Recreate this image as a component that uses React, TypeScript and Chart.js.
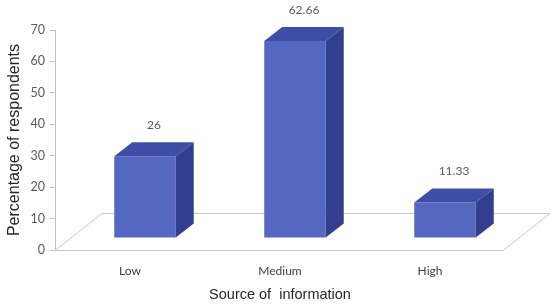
import React, { useEffect, useRef } from "react";
import { Chart, registerables } from "chart.js";

Chart.register(...registerables);

const categories = ["Low", "Medium", "High"];
const percentages = [26, 62.66, 11.33];
const valueLabels = ["26", "62.66", "11.33"];
const yTicks = [0, 10, 20, 30, 40, 50, 60, 70];

const SHIFT_X = 15;
const SHIFT_Y = -12;
const DEPTH_X = 18;
const DEPTH_Y = -14;

const bar3d = {
  id: "bar3d",
  beforeDatasetsDraw(chart: any) {
    const { ctx, chartArea } = chart;
    const { left, right, bottom } = chartArea;
    ctx.save();
    ctx.strokeStyle = "#c8c8c8";
    ctx.lineWidth = 1;
    ctx.beginPath();
    ctx.moveTo(left, bottom + 0.5);
    ctx.lineTo(right - 2, bottom + 0.5);
    ctx.lineTo(right + 45, bottom - 36.5);
    ctx.lineTo(left + 47, bottom - 36.5);
    ctx.closePath();
    ctx.stroke();
    ctx.restore();
  },
  beforeDatasetDraw(chart: any) {
    chart.ctx.save();
    chart.ctx.translate(SHIFT_X, SHIFT_Y);
  },
  afterDatasetDraw(chart: any) {
    const ctx = chart.ctx;
    const meta = chart.getDatasetMeta(0);
    meta.data.forEach((bar: any) => {
      const x0 = bar.x - bar.width / 2;
      const x1 = bar.x + bar.width / 2;
      const yTop = bar.y;
      const yBase = bar.base;
      ctx.fillStyle = "#3e4ea6";
      ctx.beginPath();
      ctx.moveTo(x0, yTop);
      ctx.lineTo(x0 + DEPTH_X, yTop + DEPTH_Y);
      ctx.lineTo(x1 + DEPTH_X, yTop + DEPTH_Y);
      ctx.lineTo(x1, yTop);
      ctx.closePath();
      ctx.fill();
      ctx.fillStyle = "#323f8e";
      ctx.beginPath();
      ctx.moveTo(x1, yTop);
      ctx.lineTo(x1 + DEPTH_X, yTop + DEPTH_Y);
      ctx.lineTo(x1 + DEPTH_X, yBase + DEPTH_Y);
      ctx.lineTo(x1, yBase);
      ctx.closePath();
      ctx.fill();
    });
    ctx.restore();
    ctx.save();
    ctx.fillStyle = "#595959";
    ctx.font = "12px Lato";
    ctx.textAlign = "center";
    ctx.textBaseline = "middle";
    meta.data.forEach((bar: any, i: number) => {
      ctx.fillText(
        valueLabels[i],
        bar.x + SHIFT_X + DEPTH_X / 2,
        bar.y + SHIFT_Y + DEPTH_Y - 17
      );
    });
    ctx.restore();
  },
};

export default function App() {
  const ref = useRef<HTMLCanvasElement | null>(null);
  useEffect(() => {
    if (!ref.current) return;
    const chart = new Chart(ref.current, {
      type: "bar",
      data: {
        labels: categories,
        datasets: [
          {
            data: percentages,
            backgroundColor: "#5468c2",
            borderWidth: 0,
            categoryPercentage: 1,
            barPercentage: 0.41,
            clip: false as any,
          },
        ],
      },
      options: {
        animation: false,
        responsive: false,
        maintainAspectRatio: false,
        layout: { padding: { top: 30, right: 46, left: 0, bottom: 0 } },
        plugins: { legend: { display: false }, tooltip: { enabled: false } },
        scales: {
          x: {
            grid: { display: false, drawTicks: false },
            border: { display: false },
            ticks: { color: "#404040", font: { family: "Lato", size: 12 }, padding: 14 },
            title: {
              display: true,
              text: "Source of  information",
              color: "#262626",
              font: { family: "Liberation Sans", size: 14.5 },
              padding: { top: 6 },
            },
            afterFit(scale: any) {
              scale.height = 58;
            },
          },
          y: {
            min: 0,
            max: 70,
            afterBuildTicks(scale: any) {
              scale.ticks = yTicks.map((v) => ({ value: v }));
            },
            grid: { drawOnChartArea: false, color: "#bfbfbf", tickLength: 5 },
            border: { display: true, color: "#bfbfbf" },
            ticks: { color: "#595959", font: { family: "Lato", size: 12.5 }, padding: 5 },
            title: {
              display: true,
              text: "Percentage of respondents",
              color: "#262626",
              font: { family: "Liberation Sans", size: 16 },
              padding: { top: 5, bottom: 0 },
            },
            afterFit(scale: any) {
              scale.width = 55;
            },
          },
        },
      },
      plugins: [bar3d],
    });
    return () => chart.destroy();
  }, []);
  return (
    <div style={{ position: "absolute", left: 0, top: 0, width: 551, height: 308, background: "#fff" }}>
      <canvas ref={ref} width={551} height={308} />
    </div>
  );
}
